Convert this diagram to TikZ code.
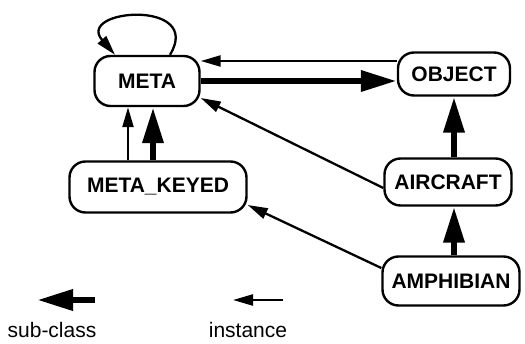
\documentclass[tikz,border=0pt]{standalone}
\usepackage{fontspec}
\setmainfont{Liberation Sans}
\usetikzlibrary{arrows.meta,calc}
\tikzset{
	cls/.style={draw, line width=2.4pt, rounded corners=16pt, inner sep=0pt,
		font=\fontsize{21}{25}\selectfont\bfseries},
	subarr/.style={line width=6.5pt, -{Triangle[length=36pt,width=20pt]}},
	instarr/.style={line width=2.3pt, -{Triangle[length=20pt,width=11pt]}},
	legtext/.style={font=\fontsize{21}{25}\selectfont, inner sep=0pt},
}
\begin{document}
\begin{tikzpicture}[x=1pt,y=-1pt]
\useasboundingbox (0,0) rectangle (525,344);
% classes
\node[cls, minimum width=105pt, minimum height=50pt] (META) at (147,81) {META};
\node[cls, minimum width=112pt, minimum height=43pt] (OBJECT) at (454,74) {OBJECT};
\node[cls, minimum width=177pt, minimum height=51pt] (METAKEYED) at (158,187) {META\_KEYED};
\node[cls, minimum width=127pt, minimum height=47pt] (AIRCRAFT) at (448,182) {AIRCRAFT};
\node[cls, minimum width=137pt, minimum height=49pt] (AMPHIBIAN) at (451,281) {AMPHIBIAN};

% META is an instance of itself
\draw[instarr] ([xshift=23pt]META.north) .. controls +(34,-56) and +(-40,-46) .. ([xshift=-32pt]META.north);

% top row
\coordinate (topline) at ([yshift=20pt]META.east);
\draw[instarr] (OBJECT.west |- topline) -- (topline);
\draw[subarr] (META.east) -- (META.east -| OBJECT.west);

% META_KEYED up to META
\draw[instarr] ([xshift=-30pt]METAKEYED.north) -- ([xshift=-30pt]METAKEYED.north |- META.south);
\draw[subarr] ([xshift=-5pt]METAKEYED.north) -- ([xshift=-5pt]METAKEYED.north |- META.south);

% right column
\draw[subarr] (AIRCRAFT.north -| OBJECT.south) -- (OBJECT.south);
\draw[subarr] (AMPHIBIAN.north -| OBJECT.south) -- (AIRCRAFT.south -| OBJECT.south);
\draw[instarr] ([yshift=-6pt]AIRCRAFT.west) -- ([yshift=-17pt]META.east);
\draw[instarr] ([yshift=13pt]AMPHIBIAN.west) -- ([yshift=-18pt]METAKEYED.east);

% legend
\coordinate (subtail) at (95,300);
\coordinate (subhead) at (37,300);
\draw[subarr] (subtail) -- (subhead);
\coordinate (insttail) at (283,300);
\coordinate (insthead) at (233,300);
\draw[instarr] (insttail) -- (insthead);
\node[legtext, anchor=base] (sublabel) at (52,338) {sub-class};
\node[legtext, anchor=base] (instlabel) at (248,338) {instance};
\end{tikzpicture}
\end{document}
